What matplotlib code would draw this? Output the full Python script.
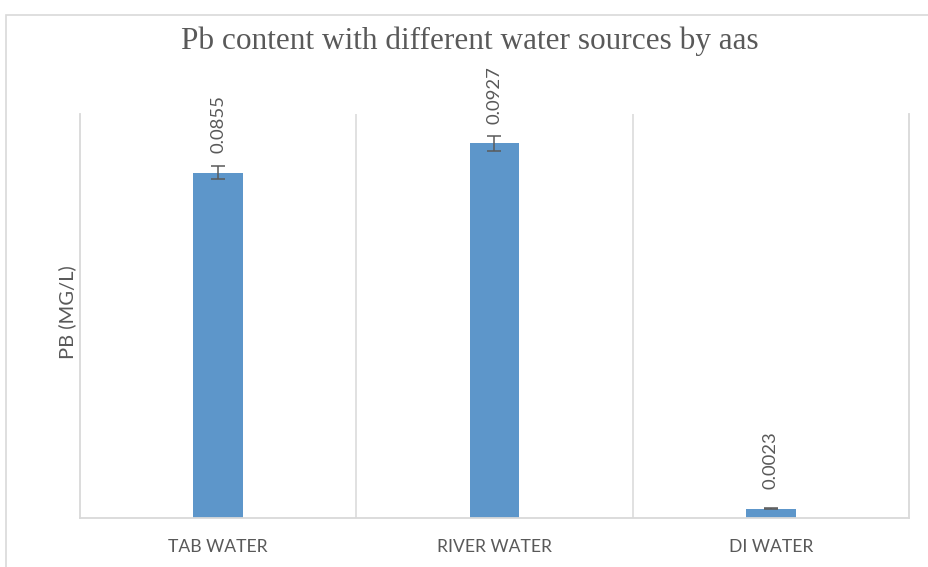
import matplotlib
matplotlib.use("Agg")
import matplotlib.pyplot as plt
from matplotlib.patches import Rectangle

categories = ["TAB WATER", "RIVER WATER", "DI WATER"]
values = [0.0855, 0.0927, 0.0023]
errors = [0.00165, 0.0019, 0.0001]
value_labels = ["0.0855", "0.0927", "0.0023"]

title = "Pb content with different water sources by aas"
ylabel = "PB (MG/L)"

W, H = 929, 567
fig = plt.figure(figsize=(W / 100, H / 100), dpi=100)
fig.patch.set_facecolor("white")

# outer chart border (cropped chart area)
fig.add_artist(Rectangle((6 / W, -0.2), 2.0, (H - 15) / H + 0.2,
                         transform=fig.transFigure, fill=False,
                         edgecolor="#d9d9d9", linewidth=1.2, clip_on=False))

left, right, top, bottom = 80, 909, 114, 518
ax = fig.add_axes([left / W, (H - bottom) / H, (right - left) / W, (bottom - top) / H])

grid_c = "#d9d9d9"
text_c = "#595959"
x = list(range(len(categories)))
ax.bar(x, values, width=0.18, color="#5D96CA", zorder=2)
ax.errorbar(x, values, yerr=errors, fmt="none", ecolor="#5a5a5a",
            elinewidth=1.1, capsize=5, capthick=1.1, zorder=3)

for xi, v, lab in zip(x, values, value_labels):
    ax.annotate(lab, xy=(xi, v), xytext=(0, 14), textcoords="offset points",
                rotation=90, ha="center", va="bottom", fontsize=13.3,
                family="Lato", color=text_c)

ax.set_xlim(-0.5, 2.5)
ax.set_ylim(0, 0.1)
for b in [0.5, 1.5]:
    ax.axvline(b, color=grid_c, linewidth=1.1, zorder=1)

for s in ["left", "right", "bottom"]:
    ax.spines[s].set_color(grid_c)
    ax.spines[s].set_linewidth(1.3)
ax.spines["top"].set_visible(False)

ax.set_yticks([])
ax.set_xticks(x)
ax.set_xticklabels(categories, fontsize=12.6, family="Lato", color=text_c)
ax.tick_params(axis="x", length=0, pad=15)

ax.set_ylabel(ylabel, fontsize=14.5, family="Lato", color=text_c)
ax.yaxis.set_label_coords(-0.0045, 0.51)

fig.text(470 / W, 1 - 49 / H, title, ha="center", va="baseline",
         fontsize=22.5, family="Liberation Serif", color=text_c)

fig.savefig("out.png", dpi=100)
